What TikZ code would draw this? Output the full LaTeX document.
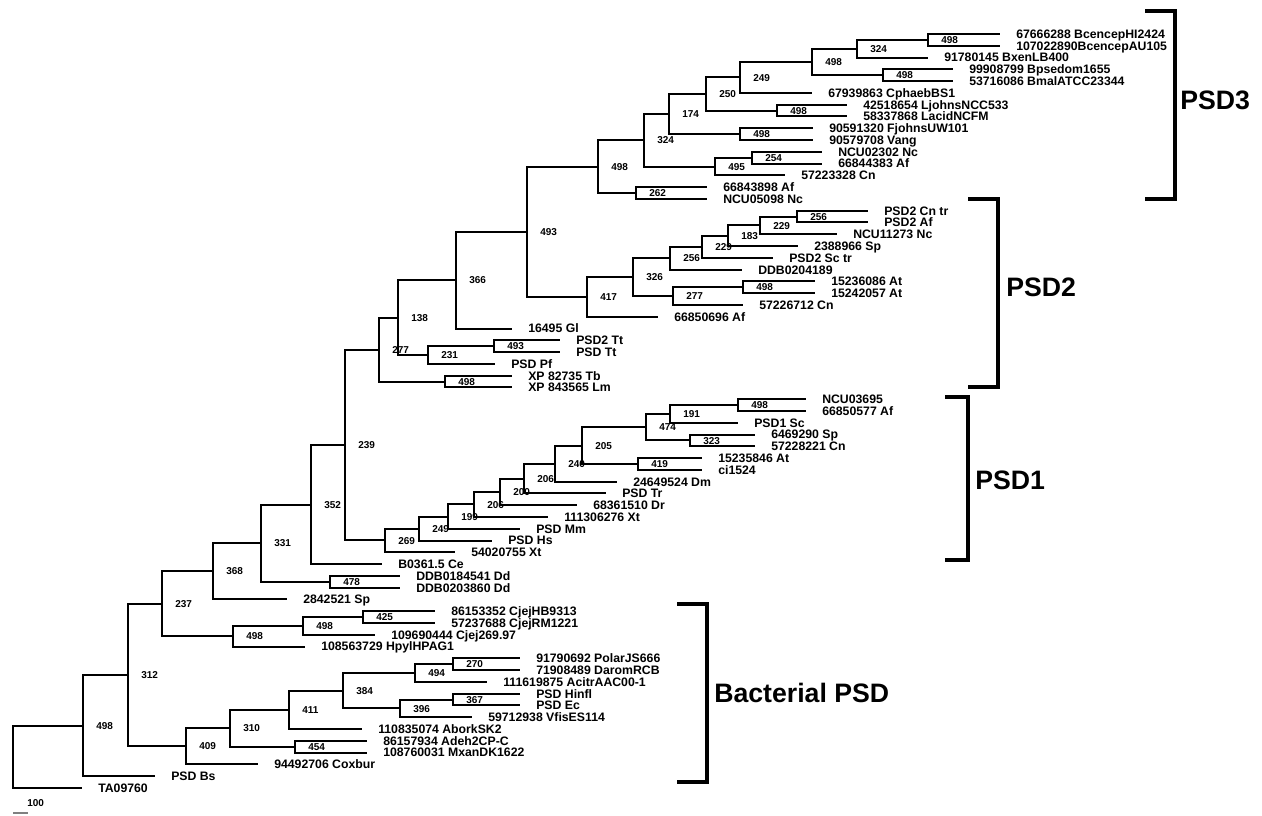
\documentclass[tikz,border=0pt]{standalone}
\usepackage{fontspec}
\setmainfont{Liberation Sans}
\tikzstyle{branch}=[line width=1.5pt]
\tikzstyle{tip}=[coordinate]
\tikzstyle{fork}=[coordinate]
\tikzstyle{taxon}=[inner sep=0pt,xshift=12pt,text height=6.6pt,text depth=0pt,font=\fontsize{9.2}{10}\selectfont\bfseries]
\tikzstyle{boot}=[inner sep=0pt,xshift=9.75pt,text height=5.4pt,text depth=0pt,font=\fontsize{7.5}{8}\selectfont\bfseries]
\tikzstyle{bracket}=[line width=3.3pt]
\tikzstyle{group}=[anchor=west,inner sep=0pt,text height=14.3pt,text depth=0pt,font=\fontsize{20}{21}\selectfont\bfseries]

\begin{document}
\begin{tikzpicture}[x=0.75pt,y=-0.75pt]
\useasboundingbox (0,0) rectangle (1262,815);
\begin{scope}[y=-8.835pt,yshift=-25.5pt]
\node[tip,label={[taxon]right:67666288 BcencepHI2424}] (t0) at (1000,0) {};
\node[tip,label={[taxon]right:107022890BcencepAU105}] (t1) at (1000,1) {};
\node[tip,label={[taxon]right:91780145 BxenLB400}] (t2) at (928,2) {};
\node[tip,label={[taxon]right:99908799 Bpsedom1655}] (t3) at (953,3) {};
\node[tip,label={[taxon]right:53716086 BmalATCC23344}] (t4) at (953,4) {};
\node[tip,label={[taxon]right:67939863 CphaebBS1}] (t5) at (812,5) {};
\node[tip,label={[taxon]right:42518654 LjohnsNCC533}] (t6) at (847,6) {};
\node[tip,label={[taxon]right:58337868 LacidNCFM}] (t7) at (847,7) {};
\node[tip,label={[taxon]right:90591320 FjohnsUW101}] (t8) at (813,8) {};
\node[tip,label={[taxon]right:90579708 Vang}] (t9) at (813,9) {};
\node[tip,label={[taxon]right:NCU02302 Nc}] (t10) at (822,10) {};
\node[tip,label={[taxon]right:66844383 Af}] (t11) at (822,11) {};
\node[tip,label={[taxon]right:57223328 Cn}] (t12) at (785,12) {};
\node[tip,label={[taxon]right:66843898 Af}] (t13) at (707,13) {};
\node[tip,label={[taxon]right:NCU05098 Nc}] (t14) at (707,14) {};
\node[tip,label={[taxon]right:PSD2 Cn tr}] (t15) at (868,15) {};
\node[tip,label={[taxon]right:PSD2 Af}] (t16) at (868,16) {};
\node[tip,label={[taxon]right:NCU11273 Nc}] (t17) at (837,17) {};
\node[tip,label={[taxon]right:2388966 Sp}] (t18) at (798,18) {};
\node[tip,label={[taxon]right:PSD2 Sc tr}] (t19) at (773,19) {};
\node[tip,label={[taxon]right:DDB0204189}] (t20) at (742,20) {};
\node[tip,label={[taxon]right:15236086 At}] (t21) at (815,21) {};
\node[tip,label={[taxon]right:15242057 At}] (t22) at (815,22) {};
\node[tip,label={[taxon]right:57226712 Cn}] (t23) at (743,23) {};
\node[tip,label={[taxon]right:66850696 Af}] (t24) at (658,24) {};
\node[tip,label={[taxon]right:16495 Gl}] (t25) at (512,25) {};
\node[tip,label={[taxon]right:PSD2 Tt}] (t26) at (560,26) {};
\node[tip,label={[taxon]right:PSD Tt}] (t27) at (560,27) {};
\node[tip,label={[taxon]right:PSD Pf}] (t28) at (495,28) {};
\node[tip,label={[taxon]right:XP 82735 Tb}] (t29) at (512,29) {};
\node[tip,label={[taxon]right:XP 843565 Lm}] (t30) at (512,30) {};
\node[tip,label={[taxon]right:NCU03695}] (t31) at (806,31) {};
\node[tip,label={[taxon]right:66850577 Af}] (t32) at (806,32) {};
\node[tip,label={[taxon]right:PSD1 Sc}] (t33) at (738,33) {};
\node[tip,label={[taxon]right:6469290 Sp}] (t34) at (755,34) {};
\node[tip,label={[taxon]right:57228221 Cn}] (t35) at (755,35) {};
\node[tip,label={[taxon]right:15235846 At}] (t36) at (702,36) {};
\node[tip,label={[taxon]right:ci1524}] (t37) at (702,37) {};
\node[tip,label={[taxon]right:24649524 Dm}] (t38) at (617,38) {};
\node[tip,label={[taxon]right:PSD Tr}] (t39) at (606,39) {};
\node[tip,label={[taxon]right:68361510 Dr}] (t40) at (577,40) {};
\node[tip,label={[taxon]right:111306276 Xt}] (t41) at (548,41) {};
\node[tip,label={[taxon]right:PSD Mm}] (t42) at (520,42) {};
\node[tip,label={[taxon]right:PSD Hs}] (t43) at (492,43) {};
\node[tip,label={[taxon]right:54020755 Xt}] (t44) at (455,44) {};
\node[tip,label={[taxon]right:B0361.5 Ce}] (t45) at (382,45) {};
\node[tip,label={[taxon]right:DDB0184541 Dd}] (t46) at (400,46) {};
\node[tip,label={[taxon]right:DDB0203860 Dd}] (t47) at (400,47) {};
\node[tip,label={[taxon]right:2842521 Sp}] (t48) at (287,48) {};
\node[tip,label={[taxon]right:86153352 CjejHB9313}] (t49) at (435,49) {};
\node[tip,label={[taxon]right:57237688 CjejRM1221}] (t50) at (435,50) {};
\node[tip,label={[taxon]right:109690444 Cjej269.97}] (t51) at (375,51) {};
\node[tip,label={[taxon]right:108563729 HpylHPAG1}] (t52) at (305,52) {};
\node[tip,label={[taxon]right:91790692 PolarJS666}] (t53) at (520,53) {};
\node[tip,label={[taxon]right:71908489 DaromRCB}] (t54) at (520,54) {};
\node[tip,label={[taxon]right:111619875 AcitrAAC00-1}] (t55) at (487,55) {};
\node[tip,label={[taxon]right:PSD Hinfl}] (t56) at (520,56) {};
\node[tip,label={[taxon]right:PSD Ec}] (t57) at (520,57) {};
\node[tip,label={[taxon]right:59712938 VfisES114}] (t58) at (472,58) {};
\node[tip,label={[taxon]right:110835074 AborkSK2}] (t59) at (362,59) {};
\node[tip,label={[taxon]right:86157934 Adeh2CP-C}] (t60) at (367,60) {};
\node[tip,label={[taxon]right:108760031 MxanDK1622}] (t61) at (367,61) {};
\node[tip,label={[taxon]right:94492706 Coxbur}] (t62) at (258,62) {};
\node[tip,label={[taxon]right:PSD Bs}] (t63) at (155,63) {};
\node[tip,label={[taxon]right:TA09760}] (t64) at (82,64) {};

\node[fork,label={[boot]right:498}] (h1) at (928,0.5) {};
\node[fork,label={[boot]right:324}] (h2) at (857,1.25) {};
\node[fork,label={[boot]right:498}] (h3) at (883,3.5) {};
\node[fork,label={[boot]right:498}] (h4) at (812,2.375) {};
\node[fork,label={[boot]right:249}] (h5) at (740,3.688) {};
\node[fork,label={[boot]right:498}] (h6) at (777,6.5) {};
\node[fork,label={[boot]right:250}] (h7) at (706,5.094) {};
\node[fork,label={[boot]right:498}] (h8) at (740,8.5) {};
\node[fork,label={[boot]right:174}] (h9) at (669,6.797) {};
\node[fork,label={[boot]right:254}] (h10) at (752,10.5) {};
\node[fork,label={[boot]right:495}] (h11) at (715,11.25) {};
\node[fork,label={[boot]right:324}] (h12) at (644,9.023) {};
\node[fork,label={[boot]right:262}] (h13) at (636,13.5) {};
\node[fork,label={[boot]right:498}] (h14) at (598,11.262) {};

\node[fork,label={[boot]right:256}] (g1) at (797,15.5) {};
\node[fork,label={[boot]right:229}] (g2) at (760,16.25) {};
\node[fork,label={[boot]right:183}] (g3) at (728,17.125) {};
\node[fork,label={[boot]right:229}] (g4) at (702,18.063) {};
\node[fork,label={[boot]right:256}] (g5) at (670,19.031) {};
\node[fork,label={[boot]right:498}] (g6) at (743,21.5) {};
\node[fork,label={[boot]right:277}] (g7) at (673,22.25) {};
\node[fork,label={[boot]right:326}] (g8) at (633,20.641) {};
\node[fork,label={[boot]right:417}] (g9) at (587,22.32) {};
\node[fork,label={[boot]right:493}] (g10) at (527,16.791) {};
\node[fork,label={[boot]right:366}] (g11) at (456,20.896) {};
\node[fork,label={[boot]right:493}] (g12) at (494,26.5) {};
\node[fork,label={[boot]right:231}] (g13) at (428,27.25) {};
\node[fork,label={[boot]right:138}] (g14) at (398,24.073) {};
\node[fork,label={[boot]right:498}] (g15) at (445,29.5) {};
\node[fork,label={[boot]right:277}] (g16) at (379,26.786) {};

\node[fork,label={[boot]right:498}] (f1) at (738,31.5) {};
\node[fork,label={[boot]right:191}] (f2) at (670,32.25) {};
\node[fork,label={[boot]right:323}] (f3) at (690,34.5) {};
\node[fork,label={[boot]right:474}] (f4) at (646,33.375) {};
\node[fork,label={[boot]right:419}] (f5) at (638,36.5) {};
\node[fork,label={[boot]right:205}] (f6) at (582,34.938) {};
\node[fork,label={[boot]right:240}] (f7) at (555,36.469) {};
\node[fork,label={[boot]right:206}] (f8) at (524,37.734) {};
\node[fork,label={[boot]right:200}] (f9) at (500,38.867) {};
\node[fork,label={[boot]right:206}] (f10) at (474,39.934) {};
\node[fork,label={[boot]right:199}] (f11) at (448,40.967) {};
\node[fork,label={[boot]right:249}] (f12) at (419,41.983) {};
\node[fork,label={[boot]right:269}] (f13) at (385,42.992) {};
\node[fork,label={[boot]right:239}] (f14) at (345,34.889) {};
\node[fork,label={[boot]right:352}] (f15) at (311,39.945) {};
\node[fork,label={[boot]right:478}] (f16) at (330,46.5) {};
\node[fork,label={[boot]right:331}] (f17) at (261,43.222) {};
\node[fork,label={[boot]right:368}] (f18) at (213,45.611) {};

\node[fork,label={[boot]right:425}] (e1) at (363,49.5) {};
\node[fork,label={[boot]right:498}] (e2) at (303,50.25) {};
\node[fork,label={[boot]right:498}] (e3) at (233,51.125) {};
\node[fork,label={[boot]right:237}] (e4) at (162,48.368) {};
\node[fork,label={[boot]right:270}] (e5) at (453,53.5) {};
\node[fork,label={[boot]right:494}] (e6) at (415,54.25) {};
\node[fork,label={[boot]right:367}] (e7) at (453,56.5) {};
\node[fork,label={[boot]right:396}] (e8) at (400,57.25) {};
\node[fork,label={[boot]right:384}] (e9) at (343,55.75) {};
\node[fork,label={[boot]right:411}] (e10) at (289,57.375) {};
\node[fork,label={[boot]right:454}] (e11) at (295,60.5) {};
\node[fork,label={[boot]right:310}] (e12) at (230,58.938) {};
\node[fork,label={[boot]right:409}] (e13) at (186,60.469) {};
\node[fork,label={[boot]right:312}] (e14) at (128,54.418) {};
\node[fork,label={[boot]right:498}] (e15) at (83,58.709) {};
\node[fork] (r) at (13,61.355) {};

\draw[branch] (h1) |- (t0) (h1) |- (t1);
\draw[branch] (h2) |- (h1) (h2) |- (t2);
\draw[branch] (h3) |- (t3) (h3) |- (t4);
\draw[branch] (h4) |- (h2) (h4) |- (h3);
\draw[branch] (h5) |- (h4) (h5) |- (t5);
\draw[branch] (h6) |- (t6) (h6) |- (t7);
\draw[branch] (h7) |- (h5) (h7) |- (h6);
\draw[branch] (h8) |- (t8) (h8) |- (t9);
\draw[branch] (h9) |- (h7) (h9) |- (h8);
\draw[branch] (h10) |- (t10) (h10) |- (t11);
\draw[branch] (h11) |- (h10) (h11) |- (t12);
\draw[branch] (h12) |- (h9) (h12) |- (h11);
\draw[branch] (h13) |- (t13) (h13) |- (t14);
\draw[branch] (h14) |- (h12) (h14) |- (h13);
\draw[branch] (g1) |- (t15) (g1) |- (t16);
\draw[branch] (g2) |- (g1) (g2) |- (t17);
\draw[branch] (g3) |- (g2) (g3) |- (t18);
\draw[branch] (g4) |- (g3) (g4) |- (t19);
\draw[branch] (g5) |- (g4) (g5) |- (t20);
\draw[branch] (g6) |- (t21) (g6) |- (t22);
\draw[branch] (g7) |- (g6) (g7) |- (t23);
\draw[branch] (g8) |- (g5) (g8) |- (g7);
\draw[branch] (g9) |- (g8) (g9) |- (t24);
\draw[branch] (g10) |- (h14) (g10) |- (g9);
\draw[branch] (g11) |- (g10) (g11) |- (t25);
\draw[branch] (g12) |- (t26) (g12) |- (t27);
\draw[branch] (g13) |- (g12) (g13) |- (t28);
\draw[branch] (g14) |- (g11) (g14) |- (g13);
\draw[branch] (g15) |- (t29) (g15) |- (t30);
\draw[branch] (g16) |- (g14) (g16) |- (g15);
\draw[branch] (f1) |- (t31) (f1) |- (t32);
\draw[branch] (f2) |- (f1) (f2) |- (t33);
\draw[branch] (f3) |- (t34) (f3) |- (t35);
\draw[branch] (f4) |- (f2) (f4) |- (f3);
\draw[branch] (f5) |- (t36) (f5) |- (t37);
\draw[branch] (f6) |- (f4) (f6) |- (f5);
\draw[branch] (f7) |- (f6) (f7) |- (t38);
\draw[branch] (f8) |- (f7) (f8) |- (t39);
\draw[branch] (f9) |- (f8) (f9) |- (t40);
\draw[branch] (f10) |- (f9) (f10) |- (t41);
\draw[branch] (f11) |- (f10) (f11) |- (t42);
\draw[branch] (f12) |- (f11) (f12) |- (t43);
\draw[branch] (f13) |- (f12) (f13) |- (t44);
\draw[branch] (f14) |- (g16) (f14) |- (f13);
\draw[branch] (f15) |- (f14) (f15) |- (t45);
\draw[branch] (f16) |- (t46) (f16) |- (t47);
\draw[branch] (f17) |- (f15) (f17) |- (f16);
\draw[branch] (f18) |- (f17) (f18) |- (t48);
\draw[branch] (e1) |- (t49) (e1) |- (t50);
\draw[branch] (e2) |- (e1) (e2) |- (t51);
\draw[branch] (e3) |- (e2) (e3) |- (t52);
\draw[branch] (e4) |- (f18) (e4) |- (e3);
\draw[branch] (e5) |- (t53) (e5) |- (t54);
\draw[branch] (e6) |- (e5) (e6) |- (t55);
\draw[branch] (e7) |- (t56) (e7) |- (t57);
\draw[branch] (e8) |- (e7) (e8) |- (t58);
\draw[branch] (e9) |- (e6) (e9) |- (e8);
\draw[branch] (e10) |- (e9) (e10) |- (t59);
\draw[branch] (e11) |- (t60) (e11) |- (t61);
\draw[branch] (e12) |- (e10) (e12) |- (e11);
\draw[branch] (e13) |- (e12) (e13) |- (t62);
\draw[branch] (e14) |- (e4) (e14) |- (e13);
\draw[branch] (e15) |- (e14) (e15) |- (t63);
\draw[branch] (r) |- (e15) (r) |- (t64);
\end{scope}

\draw[bracket] (1145,11) -- (1175,11) -- (1175,199) -- (1145,199);
\node[group] (psd3) at (1180,100) {PSD3};
\draw[bracket] (968,199) -- (998,199) -- (998,387) -- (968,387);
\node[group] (psd2) at (1006,287) {PSD2};
\draw[bracket] (945,397) -- (968,397) -- (968,560) -- (945,560);
\node[group] (psd1) at (975,480) {PSD1};
\draw[bracket] (677,604) -- (707,604) -- (707,782) -- (677,782);
\node[group] (bact) at (714,693) {Bacterial PSD};

\node[boot,anchor=west] (scale) at (14,803) {100};
\draw[gray,line width=2pt] (13,813) -- (28,813);
\end{tikzpicture}
\end{document}
